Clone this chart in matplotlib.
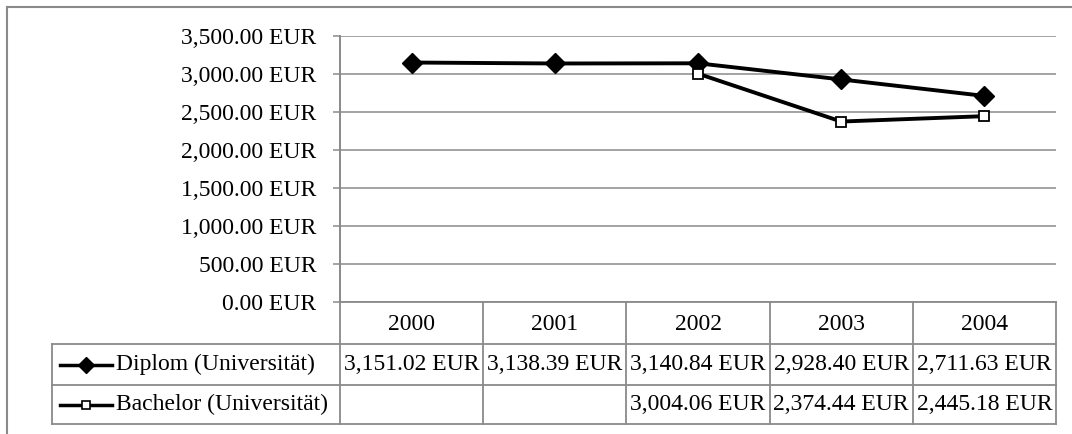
import matplotlib.pyplot as plt
from matplotlib.ticker import FuncFormatter, MultipleLocator

plt.rcParams['font.family'] = ['Liberation Serif', 'DejaVu Serif']

# Daten
years = ['2000', '2001', '2002', '2003', '2004']
diplom = [3151.02, 3138.39, 3140.84, 2928.40, 2711.63]
bachelor = [None, None, 3004.06, 2374.44, 2445.18]
series_names = ['Diplom (Universität)', 'Bachelor (Universität)']

W, H = 1072, 434
GRAY = '#8a8a8a'
FS = 17


def eur(v):
    return f'{v:,.2f} EUR'


fig = plt.figure(figsize=(W / 100, H / 100), dpi=100)

# Plotbereich in Pixeln
left, right, top, bottom = 340, 1056, 36, 302
ax = fig.add_axes([left / W, 1 - bottom / H, (right - left) / W, (bottom - top) / H])
ax.set_xlim(-0.5, len(years) - 0.5)
ax.set_ylim(0, 3500)
ax.yaxis.set_major_locator(MultipleLocator(500))
ax.yaxis.set_major_formatter(FuncFormatter(lambda v, p: eur(v)))
ax.grid(axis='y', color=GRAY, lw=1.1)
ax.set_axisbelow(True)
for s in ['top', 'right', 'bottom']:
    ax.spines[s].set_visible(False)
ax.spines['left'].set_color(GRAY)
ax.spines['left'].set_linewidth(1.1)
ax.tick_params(axis='y', color=GRAY, length=5, width=1.1, pad=12, labelsize=FS)
ax.set_xticks([])

x = list(range(len(years)))
ax.plot(x, diplom, color='black', lw=2.8, marker='D', ms=10, zorder=3)
bx = [i for i, v in zip(x, bachelor) if v is not None]
by = [v for v in bachelor if v is not None]
ax.plot(bx, by, color='black', lw=2.8, marker='s', ms=7, mfc='white',
        mec='black', mew=1.3, zorder=3)

# Tabelle unter dem Diagramm
ov = fig.add_axes([0, 0, 1, 1])
ov.set_xlim(0, W)
ov.set_ylim(H, 0)
ov.axis('off')
ov.patch.set_alpha(0)

# äußerer Rahmen
ov.plot([7, W], [7, 7], color=GRAY, lw=1.5)
ov.plot([7, 7], [7, H], color=GRAY, lw=1.5)

cw = (right - left) / len(years)
cols = [left + i * cw for i in range(len(years) + 1)]
rows = [302, 344, 385, 424]
leg_left = 52

kw = dict(color=GRAY, lw=1.3)
ov.plot([left, right], [rows[0], rows[0]], **kw)
for r in rows[1:]:
    ov.plot([leg_left, right], [r, r], **kw)
ov.plot([left, left], [top, rows[-1]], **kw)
for c in cols[1:]:
    ov.plot([c, c], [rows[0], rows[-1]], **kw)
ov.plot([leg_left, leg_left], [rows[1], rows[-1]], **kw)

for i, yr in enumerate(years):
    ov.text(cols[i] + cw / 2, (rows[0] + rows[1]) / 2 + 1, yr, ha='center',
            va='center', fontsize=FS)

for r, (name, vals) in enumerate(zip(series_names, [diplom, bachelor])):
    yc = (rows[r + 1] + rows[r + 2]) / 2
    ov.plot([60, 112], [yc, yc], color='black', lw=2.5)
    if r == 0:
        ov.plot([86], [yc], marker='D', ms=8, color='black')
    else:
        ov.plot([86], [yc], marker='s', ms=6, mfc='white', mec='black', mew=1.2)
    ov.text(116, yc, name, ha='left', va='center', fontsize=FS)
    for i, v in enumerate(vals):
        if v is not None:
            ov.text(cols[i] + cw / 2, yc, eur(v), ha='center', va='center',
                    fontsize=FS)

fig.savefig('out.png', dpi=100)
